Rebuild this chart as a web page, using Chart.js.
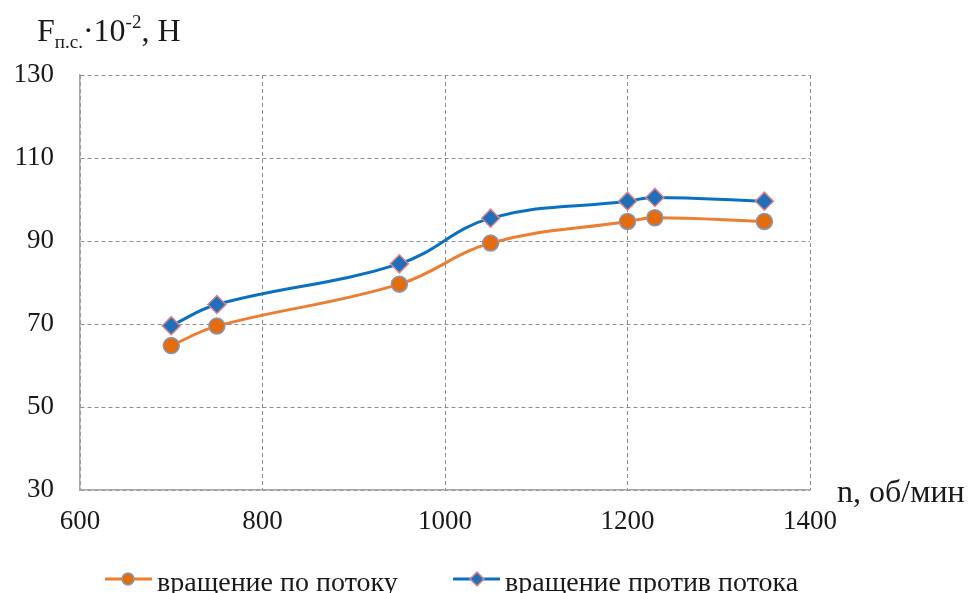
<!DOCTYPE html>
<html>
<head>
<meta charset="utf-8">
<script src="https://cdn.jsdelivr.net/npm/chart.js@4"></script>
<style>
  html, body { margin: 0; padding: 0; background: #fff; }
  #wrap { width: 976px; height: 593px; }
</style>
</head>
<body>
<div id="wrap"><canvas id="chart" width="976" height="593"></canvas></div>
<script>
// обороты, об/мин
const rpm = [700, 750, 950, 1050, 1200, 1230, 1350];
// сила, Н·10^2
const poPotoku = [64.8, 69.5, 79.6, 89.5, 94.7, 95.6, 94.7];
const protivPotoka = [69.6, 74.7, 84.5, 95.5, 99.6, 100.5, 99.6];
const xTicks = [600, 800, 1000, 1200, 1400];
const yTicks = [30, 50, 70, 90, 110, 130];
const seriesNames = ['вращение по потоку', 'вращение против потока'];

const serif = '"Liberation Serif", "Times New Roman", serif';
const textColor = '#1a1a1a';

const toXY = (ys) => rpm.map((x, i) => ({ x, y: ys[i] }));

// подписи осей и легенда
const extras = {
  id: 'extras',
  afterDraw(c) {
    const ctx = c.ctx;
    ctx.save();
    ctx.fillStyle = textColor;
    ctx.textBaseline = 'alphabetic';
    ctx.textAlign = 'left';

    // Fп.с.·10-2, Н
    let x = 37;
    const base = 41;
    ctx.font = '32px ' + serif;
    ctx.fillText('F', x, base); x += ctx.measureText('F').width;
    ctx.font = '19px ' + serif;
    ctx.fillText('п.с.', x, base + 7); x += ctx.measureText('п.с.').width;
    ctx.font = '32px ' + serif;
    ctx.fillText('·10', x, base); x += ctx.measureText('·10').width;
    ctx.font = '19px ' + serif;
    ctx.fillText('-2', x, base - 13); x += ctx.measureText('-2').width;
    ctx.font = '32px ' + serif;
    ctx.fillText(', Н', x, base);

    // n, об/мин
    ctx.font = '32px ' + serif;
    ctx.fillText('n, об/мин', 837, 502);

    // легенда
    const ly = 579;
    const items = [
      { x0: 105, x1: 152, mx: 128, tx: 157, ds: c.data.datasets[0] },
      { x0: 453, x1: 500, mx: 477, tx: 505, ds: c.data.datasets[1] }
    ];
    items.forEach(it => {
      ctx.strokeStyle = it.ds.borderColor;
      ctx.lineWidth = 3;
      ctx.beginPath();
      ctx.moveTo(it.x0, ly);
      ctx.lineTo(it.x1, ly);
      ctx.stroke();
      ctx.fillStyle = it.ds.pointBackgroundColor;
      ctx.strokeStyle = it.ds.pointBorderColor;
      ctx.lineWidth = 1.5;
      ctx.beginPath();
      if (it.ds.pointStyle === 'circle') {
        ctx.arc(it.mx, ly, 6, 0, Math.PI * 2);
      } else {
        ctx.moveTo(it.mx, ly - 7);
        ctx.lineTo(it.mx + 7, ly);
        ctx.lineTo(it.mx, ly + 7);
        ctx.lineTo(it.mx - 7, ly);
        ctx.closePath();
      }
      ctx.fill();
      ctx.stroke();
      ctx.fillStyle = textColor;
      ctx.font = '28px ' + serif;
      ctx.fillText(it.ds.label, it.tx, 591);
    });
    ctx.restore();
  }
};

new Chart(document.getElementById('chart'), {
  type: 'line',
  data: {
    datasets: [
      {
        label: seriesNames[0],
        data: toXY(poPotoku),
        borderColor: '#ed7d31',
        borderWidth: 3,
        tension: 0.4,
        pointStyle: 'circle',
        pointRadius: 8,
        pointBackgroundColor: '#e46c0a',
        pointBorderColor: '#7f9cc0',
        pointBorderWidth: 1.5
      },
      {
        label: seriesNames[1],
        data: toXY(protivPotoka),
        borderColor: '#0a70c2',
        borderWidth: 3,
        tension: 0.4,
        pointStyle: 'rectRot',
        pointRadius: 9,
        pointBackgroundColor: '#1f6fba',
        pointBorderColor: '#d9848a',
        pointBorderWidth: 1.5
      }
    ]
  },
  options: {
    responsive: false,
    animation: false,
    layout: { padding: { left: 0, top: 75, right: 166, bottom: 0 } },
    plugins: {
      legend: { display: false },
      tooltip: { enabled: false }
    },
    scales: {
      x: {
        type: 'linear',
        min: 600,
        max: 1400,
        afterBuildTicks: s => { s.ticks = xTicks.map(v => ({ value: v })); },
        afterFit: s => { s.height = 103; },
        ticks: {
          font: { family: serif, size: 27 },
          color: textColor,
          padding: 16,
          callback: v => String(v)
        },
        grid: { color: '#8c8c8c', lineWidth: 1, drawTicks: false },
        border: { display: true, color: '#a6a6a6', width: 1.5, dash: [4, 3] }
      },
      y: {
        min: 30,
        max: 130,
        afterBuildTicks: s => { s.ticks = yTicks.map(v => ({ value: v })); },
        afterFit: s => { s.width = 80; },
        ticks: {
          font: { family: serif, size: 27 },
          color: textColor,
          padding: 26,
          callback: v => String(v)
        },
        grid: { color: '#8c8c8c', lineWidth: 1, drawTicks: false },
        border: { display: true, color: '#a6a6a6', width: 1.5, dash: [4, 3] }
      }
    }
  },
  plugins: [extras]
});
</script>
</body>
</html>
